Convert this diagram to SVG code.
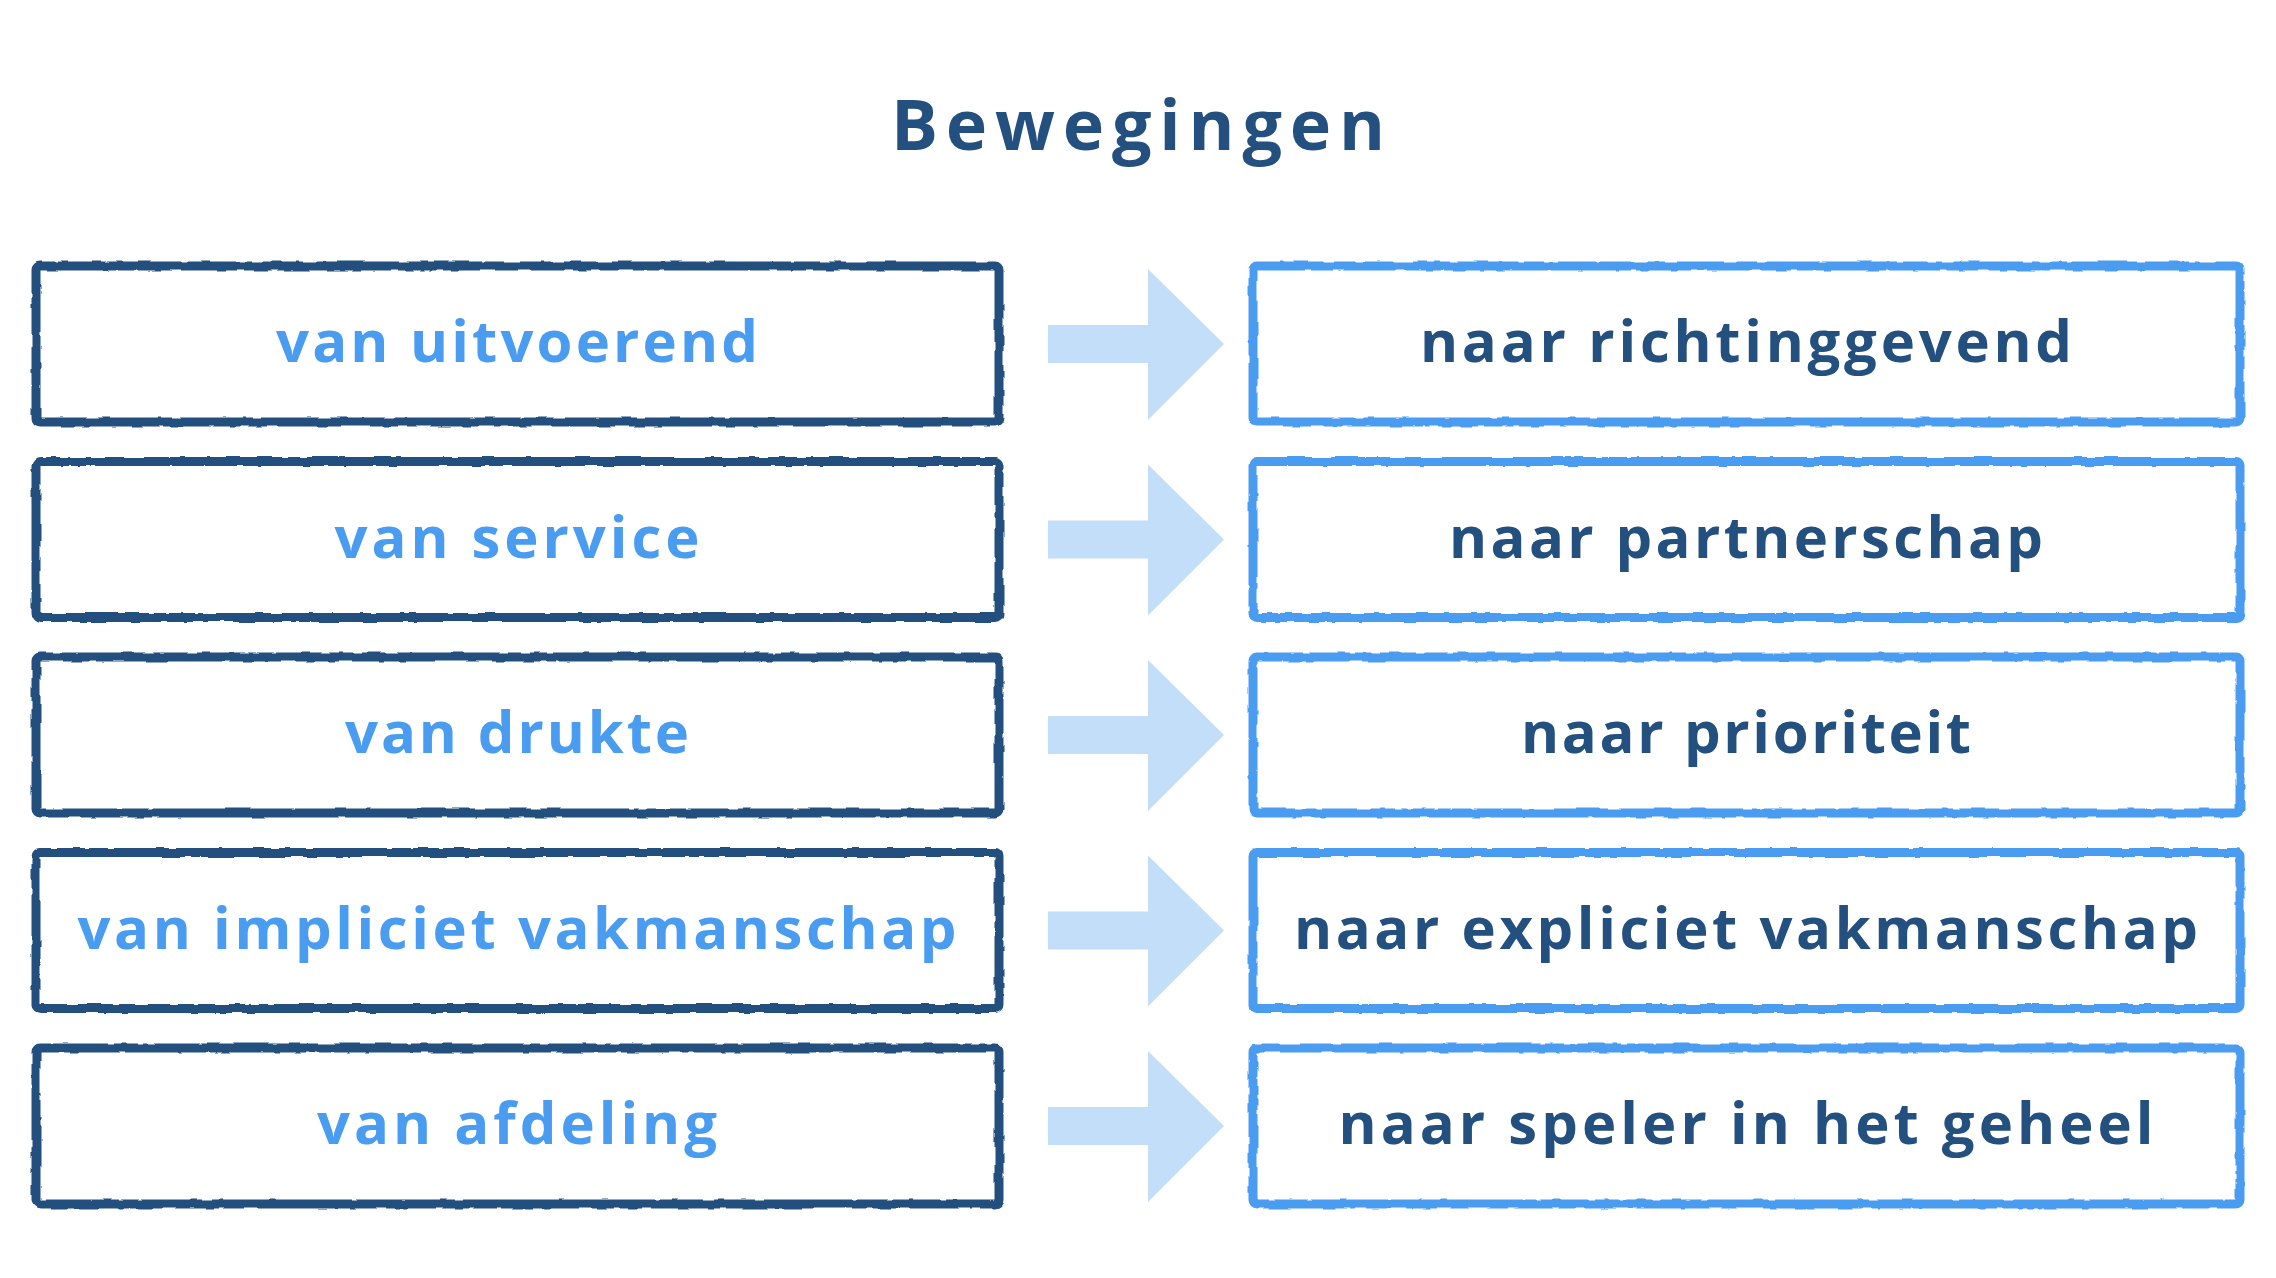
<svg xmlns="http://www.w3.org/2000/svg" width="2276" height="1278" viewBox="0 0 2276 1278">
  <defs>
    <filter id="rough" x="-2%" y="-5%" width="104%" height="110%">
      <feTurbulence type="fractalNoise" baseFrequency="0.06" numOctaves="2" seed="3" result="n"/>
      <feDisplacementMap in="SourceGraphic" in2="n" scale="4" xChannelSelector="R" yChannelSelector="G"/>
    </filter>
    <style>
      .bg { fill: #ffffff; }
      .from { fill: #ffffff; stroke: #23507e; stroke-width: 9; }
      .to { fill: #ffffff; stroke: #4a9cf0; stroke-width: 9; }
      .txt { font-family: "Open Sans", "Liberation Sans", sans-serif; font-weight: 700; font-size: 58px; text-anchor: middle; }
      .ftxt { fill: #4a9cf0; }
      .ttxt { fill: #23507e; }
      .title { font-family: "Open Sans", "Liberation Sans", sans-serif; font-weight: 700; font-size: 70px; fill: #23507e; text-anchor: middle; }
      .arrow { fill: #c3def9; }
    </style>
  </defs>
  <rect class="bg" x="0" y="0" width="2276" height="1278"/>
  <text class="title" x="1138" y="150" textLength="494" lengthAdjust="spacing">Bewegingen</text>

  <g id="connectors">
    <polygon class="arrow" points="1048,325 1148,325 1148,269 1224,344 1148,420 1148,363 1048,363"/>
    <polygon class="arrow" points="1048,520.5 1148,520.5 1148,464.5 1224,539.5 1148,615.5 1148,558.5 1048,558.5"/>
    <polygon class="arrow" points="1048,716 1148,716 1148,660 1224,735 1148,811 1148,754 1048,754"/>
    <polygon class="arrow" points="1048,911.5 1148,911.5 1148,855.5 1224,930.5 1148,1006.5 1148,949.5 1048,949.5"/>
    <polygon class="arrow" points="1048,1107 1148,1107 1148,1051 1224,1126 1148,1202 1148,1145 1048,1145"/>
  </g>

  <g id="from1">
    <rect class="from" filter="url(#rough)" x="36" y="266" width="963" height="156" rx="4"/>
    <text class="txt ftxt" x="517" y="362" textLength="482" lengthAdjust="spacing">van uitvoerend</text>
  </g>
  <g id="from2">
    <rect class="from" filter="url(#rough)" x="36" y="461.5" width="963" height="156" rx="4"/>
    <text class="txt ftxt" x="517" y="557.5" textLength="365" lengthAdjust="spacing">van service</text>
  </g>
  <g id="from3">
    <rect class="from" filter="url(#rough)" x="36" y="657" width="963" height="156" rx="4"/>
    <text class="txt ftxt" x="517" y="753" textLength="344" lengthAdjust="spacing">van drukte</text>
  </g>
  <g id="from4">
    <rect class="from" filter="url(#rough)" x="36" y="852.5" width="963" height="156" rx="4"/>
    <text class="txt ftxt" x="517" y="948.5" textLength="879" lengthAdjust="spacing">van impliciet vakmanschap</text>
  </g>
  <g id="from5">
    <rect class="from" filter="url(#rough)" x="36" y="1048" width="963" height="156" rx="4"/>
    <text class="txt ftxt" x="517" y="1144" textLength="400" lengthAdjust="spacing">van afdeling</text>
  </g>

  <g id="to1">
    <rect class="to" filter="url(#rough)" x="1253" y="266" width="987" height="156" rx="4"/>
    <text class="txt ttxt" x="1746" y="362" textLength="652" lengthAdjust="spacing">naar richtinggevend</text>
  </g>
  <g id="to2">
    <rect class="to" filter="url(#rough)" x="1253" y="461.5" width="987" height="156" rx="4"/>
    <text class="txt ttxt" x="1746" y="557.5" textLength="594" lengthAdjust="spacing">naar partnerschap</text>
  </g>
  <g id="to3">
    <rect class="to" filter="url(#rough)" x="1253" y="657" width="987" height="156" rx="4"/>
    <text class="txt ttxt" x="1746" y="753" textLength="450" lengthAdjust="spacing">naar prioriteit</text>
  </g>
  <g id="to4">
    <rect class="to" filter="url(#rough)" x="1253" y="852.5" width="987" height="156" rx="4"/>
    <text class="txt ttxt" x="1746" y="948.5" textLength="904" lengthAdjust="spacing">naar expliciet vakmanschap</text>
  </g>
  <g id="to5">
    <rect class="to" filter="url(#rough)" x="1253" y="1048" width="987" height="156" rx="4"/>
    <text class="txt ttxt" x="1746" y="1144" textLength="815" lengthAdjust="spacing">naar speler in het geheel</text>
  </g>
</svg>
